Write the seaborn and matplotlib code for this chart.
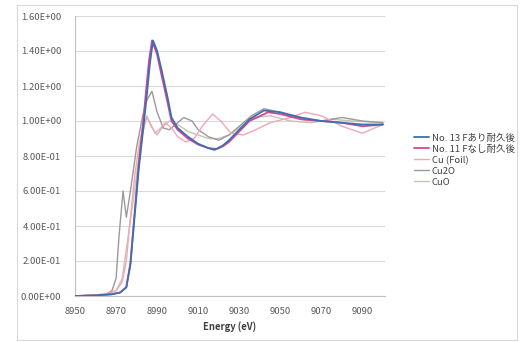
import matplotlib
matplotlib.use("Agg")
import matplotlib.pyplot as plt
from matplotlib.patches import Rectangle
from matplotlib.ticker import FuncFormatter, MultipleLocator
import seaborn as sns
import pandas as pd

# Cu K-edge XANES spectra (normalized absorbance vs energy)
e_no13 = [8950, 8960, 8968, 8972, 8975, 8977, 8979, 8981, 8983, 8985, 8986.5, 8988,
          8990, 8992, 8995, 8997, 9000, 9005, 9010, 9015, 9018, 9022, 9025, 9030,
          9035, 9042, 9050, 9060, 9070, 9080, 9090, 9100]
mu_no13 = [0.0, 0.003, 0.01, 0.02, 0.05, 0.18, 0.45, 0.72, 0.93, 1.15, 1.33, 1.46,
           1.40, 1.30, 1.14, 1.02, 0.96, 0.91, 0.87, 0.845, 0.835, 0.86, 0.89, 0.95,
           1.01, 1.06, 1.05, 1.02, 1.00, 0.99, 0.98, 0.98]

e_no11 = [8950, 8960, 8968, 8972, 8975, 8977, 8979, 8981, 8983, 8985, 8986, 8987.5,
          8990, 8992, 8995, 8997, 9000, 9005, 9010, 9015, 9019, 9022, 9025, 9030,
          9035, 9044, 9050, 9060, 9070, 9080, 9090, 9100]
mu_no11 = [0.0, 0.003, 0.01, 0.02, 0.05, 0.19, 0.47, 0.75, 0.97, 1.22, 1.34, 1.46,
           1.38, 1.27, 1.11, 1.00, 0.95, 0.90, 0.865, 0.845, 0.84, 0.855, 0.88, 0.94,
           1.00, 1.05, 1.04, 1.01, 1.00, 0.99, 0.97, 0.98]

e_cu = [8950, 8965, 8970, 8973, 8975, 8977, 8979, 8981, 8983, 8985, 8987, 8989,
        8991, 8994, 8997, 9000, 9004, 9008, 9012, 9017, 9021, 9026, 9032, 9038,
        9045, 9055, 9062, 9070, 9080, 9090, 9100]
mu_cu = [0.0, 0.01, 0.03, 0.08, 0.20, 0.45, 0.68, 0.85, 0.97, 1.02, 0.98, 0.93,
         0.95, 0.99, 0.96, 0.91, 0.88, 0.90, 0.97, 1.04, 1.00, 0.93, 0.92, 0.95,
         0.99, 1.02, 1.05, 1.03, 0.97, 0.93, 0.98]

e_cu2o = [8950, 8965, 8968, 8970, 8971.5, 8973.4, 8975, 8977, 8980, 8983, 8985,
          8987.5, 8990, 8993, 8996, 9000, 9003, 9007, 9010, 9015, 9020, 9025, 9030,
          9036, 9042, 9050, 9060, 9070, 9080, 9090, 9100]
mu_cu2o = [0.0, 0.01, 0.03, 0.10, 0.35, 0.60, 0.45, 0.60, 0.85, 1.03, 1.12,
           1.17, 1.05, 0.96, 0.95, 0.99, 1.02, 1.00, 0.95, 0.91, 0.89, 0.92, 0.97,
           1.03, 1.07, 1.05, 1.01, 1.00, 1.02, 1.00, 0.99]

e_cuo = [8950, 8965, 8970, 8973, 8976, 8979, 8982, 8985, 8987, 8990, 8993, 8996,
         9000, 9005, 9010, 9015, 9020, 9025, 9030, 9037, 9045, 9055, 9065, 9075,
         9085, 9100]
mu_cuo = [0.0, 0.01, 0.03, 0.10, 0.35, 0.60, 0.88, 1.03, 0.97, 0.92, 0.97, 1.00,
          0.98, 0.94, 0.92, 0.90, 0.90, 0.92, 0.96, 1.02, 1.03, 1.00, 0.99, 1.01,
          1.00, 0.99]

series = [
    ("No. 13 Fあり耐久後", e_no13, mu_no13, "#3C6FB0", 1.3),
    ("No. 11 Fなし耐久後", e_no11, mu_no11, "#D9458F", 1.3),
    ("Cu (Foil)", e_cu, mu_cu, "#F2A7B8", 1.0),
    ("Cu2O", e_cu2o, mu_cu2o, "#9A9A9A", 1.0),
    ("CuO", e_cuo, mu_cuo, "#C9C2B4", 1.0),
]

x_ticks = [8950, 8970, 8990, 9010, 9030, 9050, 9070, 9090]

sns.set_style("white")
plt.rcParams["font.family"] = ["Noto Sans CJK JP", "DejaVu Sans"]

fig = plt.figure(figsize=(5.2, 3.42), dpi=100)
fig.patches.append(Rectangle((17 / 520, 2 / 342), 500 / 520, 335 / 342,
                             transform=fig.transFigure, fill=False,
                             edgecolor="#D9D9D9", linewidth=0.8))
ax = fig.add_axes([75 / 520, 46 / 342, 310 / 520, 280 / 342])

for i, (name, e, mu, color, lw) in enumerate(series):
    df = pd.DataFrame({"Energy": e, "mu": mu})
    sns.lineplot(data=df, x="Energy", y="mu", ax=ax, color=color, linewidth=lw,
                 label=name, zorder=10 - i, sort=False, estimator=None)

ax.set_xlim(8950, 9101)
ax.set_ylim(0, 1.6)
ax.set_xticks(x_ticks)
ax.yaxis.set_major_locator(MultipleLocator(0.2))
ax.yaxis.set_major_formatter(FuncFormatter(lambda v, p: f"{v:.2E}"))
ax.grid(axis="y", color="#D9D9D9", linewidth=0.8)
ax.grid(axis="x", visible=False)
for side in ("top", "right"):
    ax.spines[side].set_visible(False)
for side in ("left", "bottom"):
    ax.spines[side].set_color("#BFBFBF")
    ax.spines[side].set_linewidth(0.8)
ax.tick_params(axis="y", labelsize=6.8, labelcolor="#595959", length=5,
               color="#D9D9D9", width=0.8, pad=5)
ax.tick_params(axis="x", labelsize=6.8, labelcolor="#595959", length=0, pad=8)
ax.set_xlabel("Energy (eV)", fontsize=6.8, fontweight="bold", color="#404040", labelpad=4)
ax.set_ylabel("")

leg = ax.legend(loc="center left", bbox_to_anchor=(1.065, 0.486), frameon=False,
                fontsize=6.8, handlelength=1.6, handletextpad=0.3, labelspacing=0.2)
for t in leg.get_texts():
    t.set_color("#404040")

fig.savefig("out.png", dpi=100)
